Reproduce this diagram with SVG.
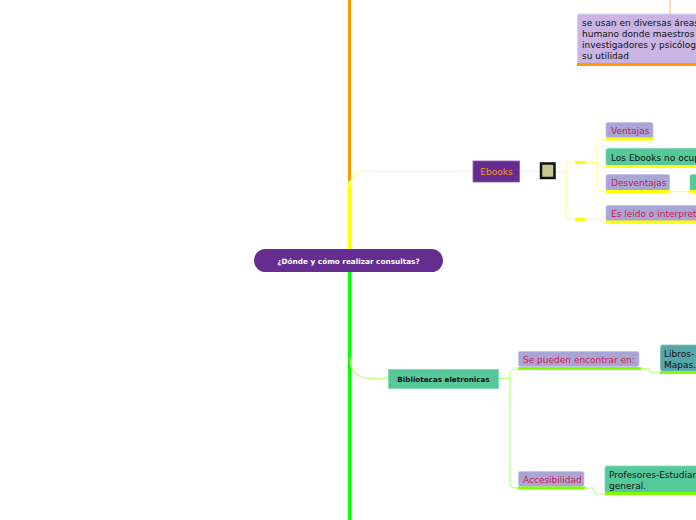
<svg xmlns="http://www.w3.org/2000/svg" width="696" height="520" viewBox="0 0 696 520">
<style>
text{font-family:"DejaVu Sans","Verdana",sans-serif;font-size:9px}
.lav{fill:#a9a5d6;stroke:#c4c0e8;stroke-width:0.8}
.grn{fill:#55c99a;stroke:#7ad9b2;stroke-width:0.8}
.red{fill:#c81e4b}
.dark{fill:#111}
.yu{stroke:#ffff00;stroke-width:3;fill:none}
.gu{stroke:#80ff00;stroke-width:3;fill:none}
.yl{stroke:#ffff88;stroke-width:1.2;fill:none}
.gl{stroke:#b8ff80;stroke-width:1.2;fill:none}
</style>
<rect width="696" height="520" fill="#fff"/>
<g id="connectors">
<line x1="349.5" y1="0" x2="349.5" y2="181" stroke="#ff9900" stroke-width="3"/>
<line x1="349.5" y1="181" x2="349.5" y2="250" stroke="#ffff00" stroke-width="3"/>
<line x1="349.5" y1="271" x2="349.5" y2="520" stroke="#00ff00" stroke-width="3"/>
<line x1="670" y1="0" x2="670" y2="14" stroke="#ffc080" stroke-width="1.2"/>
<path class="yl" d="M350,186 Q350,171.5 365,171.5 L473,171.5"/>
<path class="yl" d="M520,171.5 L540,171.5 M556,171.5 L566,171.5"/>
<path class="yl" d="M566,171.5 L566,168 Q566,162.5 571,162.5 L575,162.5 M566,171.5 L566,214 Q566,219.5 571,219.5 L575,219.5"/>
<path class="yl" d="M586,162.5 L597,162.5 M597,162.5 L597,145 Q597,139 603,139 L606,139 M597,162.5 Q597,166 603,166 L606,166 M597,162.5 L597,185 Q597,191.5 603,191.5 L606,191.5"/>
<path class="yl" d="M586,219.5 L600,219.5 Q603,222 606,222"/>
<path class="yl" d="M670,191.5 L690,191.5"/>
<path d="M575,162.5 L586,162.5 M575,219.5 L586,219.5" stroke="#ffff00" stroke-width="3"/>
<path class="gl" d="M350,358 Q350,378.5 372,378.5 L388,378.5"/>
<path class="gl" d="M498,378.5 L510,378.5 M510,378.5 L510,375 Q510,369 516,369 L518,369 M510,378.5 L510,482 Q510,488 516,488 L518,488"/>
<path class="gl" d="M641,368.5 L649,368.5 Q650,373 654,373 L660,373"/>
<path class="gl" d="M585,488 L593,488 Q594,494 598,494 L605,494"/>
</g>
<g id="top-note">
<rect x="577.5" y="14" width="125" height="50" rx="2" fill="#c9b4e4" stroke="#ddd0f0" stroke-width="0.8"/>
<line x1="577" y1="64.5" x2="696" y2="64.5" stroke="#ff9900" stroke-width="3"/>
<text x="582" y="26" class="dark">se usan en diversas áreas</text>
<text x="582" y="37" class="dark">humano donde maestros</text>
<text x="582" y="48" class="dark">investigadores y psicólog</text>
<text x="582" y="59" class="dark">su utilidad</text>
</g>
<g id="central">
<rect x="254" y="249" width="189" height="23" rx="11.5" fill="#662d91"/>
<text x="348.5" y="263.5" text-anchor="middle" fill="#fff" font-weight="bold" style="font-size:7.3px">¿Dónde y cómo realizar consultas?</text>
</g>
<g id="ebooks">
<rect x="473" y="161" width="46.5" height="21" fill="#662d91" stroke="#8a5cb0" stroke-width="0.8"/>
<text x="496.5" y="175" text-anchor="middle" fill="#f7941d">Ebooks</text>
</g>
<g id="ebooks-icon">
<rect x="541" y="163.5" width="13.5" height="14.5" fill="#c8c890" stroke="#111" stroke-width="2.5"/>
</g>
<g id="ventajas">
<rect x="606" y="122.5" width="47" height="15.5" rx="2" class="lav"/>
<line x1="606" y1="139" x2="654" y2="139" class="yu"/>
<text x="611" y="133.5" class="red">Ventajas</text>
</g>
<g id="ebooks-no-ocupan">
<rect x="606" y="148.5" width="100" height="17" rx="2" class="grn"/>
<line x1="606" y1="166.5" x2="696" y2="166.5" class="yu"/>
<text x="611" y="160.5" class="dark">Los Ebooks no ocup</text>
</g>
<g id="desventajas">
<rect x="606" y="174.5" width="63.5" height="16" rx="2" class="lav"/>
<line x1="606" y1="191.5" x2="670" y2="191.5" class="yu"/>
<text x="611" y="186" class="red">Desventajas</text>
</g>
<g id="desventajas-detail">
<rect x="690" y="174.5" width="20" height="16" rx="2" class="grn"/>
<line x1="690" y1="191.5" x2="696" y2="191.5" class="yu"/>
</g>
<g id="es-leido">
<rect x="606" y="205.5" width="100" height="16" rx="2" class="lav"/>
<line x1="606" y1="222" x2="696" y2="222" class="yu"/>
<text x="611" y="217" class="red">Es leido o interpret</text>
</g>
<g id="bibliotecas">
<rect x="388.5" y="369.5" width="110" height="19" fill="#55c99a" stroke="#7ad9b2" stroke-width="0.8"/>
<text x="443.5" y="382" text-anchor="middle" class="dark" font-weight="bold" style="font-size:7.2px">Bibliotecas eletronicas</text>
</g>
<g id="se-pueden">
<rect x="518.5" y="351.5" width="120.5" height="15" rx="2" class="lav"/>
<line x1="518" y1="368.5" x2="641" y2="368.5" class="gu"/>
<text x="523" y="362.5" class="red">Se pueden encontrar en:</text>
</g>
<g id="libros">
<rect x="660.5" y="345" width="60" height="26" rx="2" fill="#56a8a8" stroke="#7cc0c0" stroke-width="0.8"/>
<line x1="660" y1="372.5" x2="696" y2="372.5" class="gu"/>
<text x="664" y="357" class="dark">Libros-</text>
<text x="664" y="368" class="dark">Mapas.</text>
</g>
<g id="accesibilidad">
<rect x="518.5" y="471.5" width="65.5" height="15" rx="2" class="lav"/>
<line x1="518" y1="488" x2="585" y2="488" class="gu"/>
<text x="523" y="483" class="red">Accesibilidad</text>
</g>
<g id="profesores">
<rect x="605" y="466" width="100" height="26.5" rx="2" class="grn"/>
<line x1="605" y1="493.5" x2="696" y2="493.5" class="gu"/>
<text x="609" y="477.5" class="dark">Profesores-Estudian</text>
<text x="609" y="488.5" class="dark">general.</text>
</g>
</svg>
